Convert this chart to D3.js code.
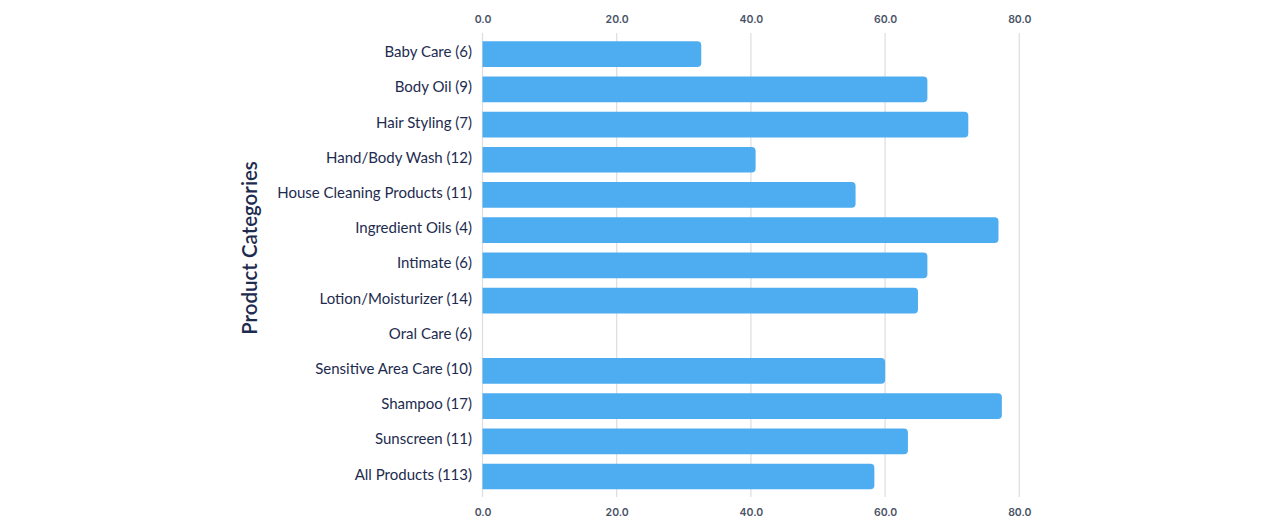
<!DOCTYPE html>
<html>
<head>
<meta charset="utf-8">
<script src="https://cdn.jsdelivr.net/npm/d3@7/dist/d3.min.js"></script>
<style>
  html, body { margin: 0; padding: 0; background: #ffffff; }
  svg { display: block; }
</style>
</head>
<body>
<svg id="chart" width="1280" height="528"></svg>
<script>
const categories = [
  "Baby Care (6)", "Body Oil (9)", "Hair Styling (7)", "Hand/Body Wash (12)",
  "House Cleaning Products (11)", "Ingredient Oils (4)", "Intimate (6)",
  "Lotion/Moisturizer (14)", "Oral Care (6)", "Sensitive Area Care (10)",
  "Shampoo (17)", "Sunscreen (11)", "All Products (113)"
];
const values = [32.6, 66.3, 72.4, 40.7, 55.6, 76.9, 66.3, 64.9, 0, 60.0, 77.4, 63.4, 58.4];
const tickValues = [0, 20, 40, 60, 80];
const axisTitle = "Product Categories";

(function () {
const svg = d3.select("#chart");
const mLeft = 482.5, mRight = 1019.3, mTop = 33, mBottom = 497;
const bandTop = 36.6, bandBottom = 494.1;

const x = d3.scaleLinear().domain([0, 80]).range([mLeft, mRight]);
const y = d3.scaleBand().domain(categories).range([bandTop, bandBottom]).paddingInner(0.27).paddingOuter(0.135);

// gridlines
svg.append("g").selectAll("line").data(tickValues).join("line")
  .attr("x1", d => x(d)).attr("x2", d => x(d))
  .attr("y1", mTop).attr("y2", mBottom)
  .attr("stroke", "#dcdde0").attr("stroke-width", 1.2);

// tick labels top & bottom
const fmt = d3.format(".1f");
const tickStyle = sel => sel.selectAll("text")
  .attr("font-family", "Inter, 'Open Sans', sans-serif")
  .attr("font-size", "10.5px").attr("font-weight", 600).attr("fill", "#4a5468");

const axTop = svg.append("g").attr("transform", `translate(0,${mTop - 4})`)
  .call(d3.axisTop(x).tickValues(tickValues).tickFormat(fmt).tickSize(0).tickPadding(6));
axTop.select(".domain").remove();
tickStyle(axTop);

const axBot = svg.append("g").attr("transform", `translate(0,${mBottom + 4})`)
  .call(d3.axisBottom(x).tickValues(tickValues).tickFormat(fmt).tickSize(0).tickPadding(8));
axBot.select(".domain").remove();
tickStyle(axBot);

// bars: square left, rounded right
const r = 4;
svg.append("g").selectAll("path").data(categories.map((c, i) => ({c, v: values[i]})).filter(d => d.v > 0))
  .join("path")
  .attr("fill", "#4eadf0")
  .attr("d", d => {
    const x0 = x(0), x1 = x(d.v), y0 = y(d.c), h = y.bandwidth();
    const p = d3.path();
    p.moveTo(x0, y0);
    p.lineTo(x1 - r, y0);
    p.arcTo(x1, y0, x1, y0 + r, r);
    p.lineTo(x1, y0 + h - r);
    p.arcTo(x1, y0 + h, x1 - r, y0 + h, r);
    p.lineTo(x0, y0 + h);
    p.closePath();
    return p.toString();
  });

// category labels
const axLeft = svg.append("g").attr("transform", `translate(${mLeft},0)`)
  .call(d3.axisLeft(y).tickSize(0).tickPadding(10.5));
axLeft.select(".domain").remove();
axLeft.selectAll("text")
  .attr("dy", "0.2em")
  .attr("font-family", "Lato, 'Open Sans', sans-serif")
  .attr("font-size", "15px").attr("fill", "#1d2b4f");

// axis title
svg.append("text")
  .attr("transform", `translate(257,248) rotate(-90)`)
  .attr("text-anchor", "middle")
  .attr("font-family", "Lato, 'Open Sans', sans-serif")
  .attr("font-size", "20.5px").attr("font-weight", 600)
  .attr("fill", "#1d2b4f")
  .text(axisTitle);
})();
</script>
</body>
</html>
